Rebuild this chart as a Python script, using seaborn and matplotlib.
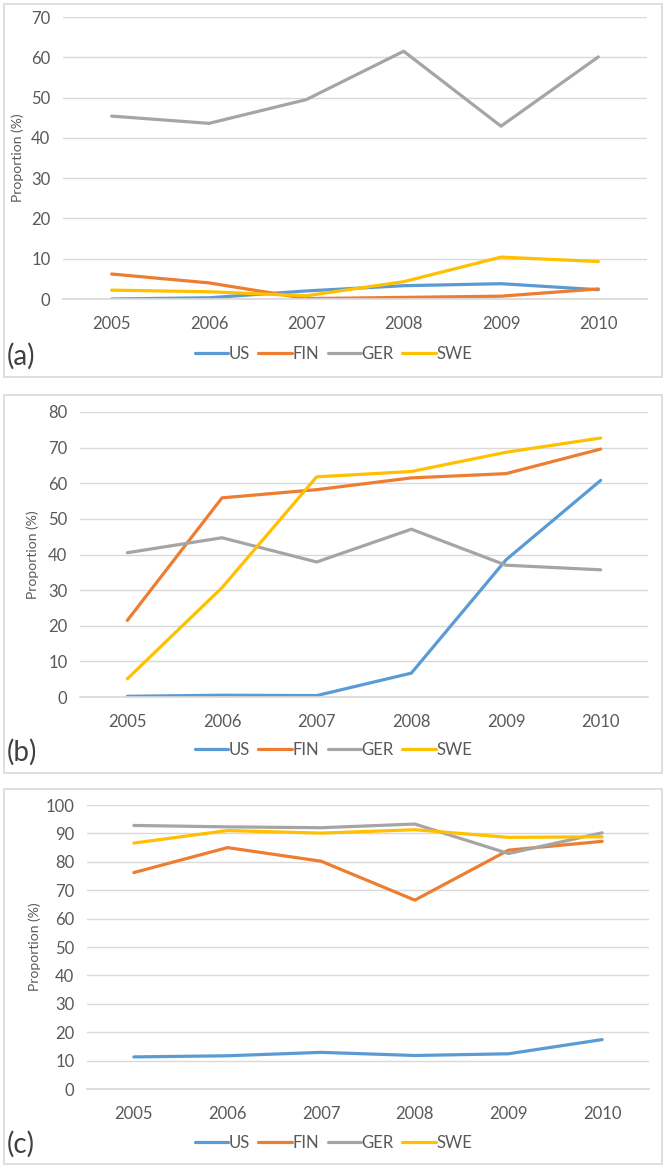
import matplotlib
matplotlib.use("Agg")
import matplotlib.pyplot as plt
from matplotlib.patches import Rectangle
import seaborn as sns
import pandas as pd

years = [2005, 2006, 2007, 2008, 2009, 2010]
countries = ["US", "FIN", "GER", "SWE"]
colors = ["#5B9BD5", "#ED7D31", "#A5A5A5", "#FFC000"]

a_us = [0.0, 0.3, 2.0, 3.3, 3.8, 2.3]
a_fin = [6.2, 4.0, 0.1, 0.4, 0.7, 2.5]
a_ger = [45.4, 43.6, 49.5, 61.5, 42.9, 60.1]
a_swe = [2.2, 1.8, 0.8, 4.3, 10.4, 9.3]

b_us = [0.2, 0.5, 0.4, 6.7, 38.5, 60.8]
b_fin = [21.5, 55.9, 58.2, 61.5, 62.7, 69.6]
b_ger = [40.5, 44.7, 37.9, 47.1, 37.0, 35.7]
b_swe = [5.1, 30.7, 61.8, 63.3, 68.7, 72.7]

c_us = [11.3, 11.7, 12.9, 11.8, 12.4, 17.4]
c_fin = [76.2, 85.0, 80.2, 66.5, 84.1, 87.2]
c_ger = [92.8, 92.3, 92.0, 93.3, 82.9, 90.2]
c_swe = [86.6, 91.0, 90.1, 91.3, 88.6, 88.8]

panel_labels = ["(a)", "(b)", "(c)"]
ylims = [70, 80, 100]

panels = [
    [a_us, a_fin, a_ger, a_swe],
    [b_us, b_fin, b_ger, b_swe],
    [c_us, c_fin, c_ger, c_swe],
]

sns.set_theme(style="white")
plt.rcParams["font.family"] = ["Lato", "DejaVu Sans"]

W, H = 667, 1170
fig = plt.figure(figsize=(W / 100, H / 100), dpi=100)

def fx(px):
    return px / W

def fy(py):
    return 1 - py / H

# axes rectangles in pixel coordinates: left, right, top(y of max), bottom(y of 0)
ax_px = [(63, 647, 17, 299), (80, 648, 412, 697), (87, 649, 805, 1089)]
box_px = [(4, 662, 4, 377), (4, 662, 395, 773), (4, 662, 789, 1164)]
legend_y = [354, 750, 1143]
label_y = [356, 752, 1144]
ylabel_x = [18, 33, 35]

grid_col = "#D9D9D9"
text_col = "#595959"

for i in range(3):
    l, r, t, b = ax_px[i]
    bx0, bx1, by0, by1 = box_px[i]
    fig.patches.append(Rectangle((fx(bx0), fy(by1)), fx(bx1 - bx0), (by1 - by0) / H,
                                 transform=fig.transFigure, fill=False,
                                 edgecolor=grid_col, linewidth=1.2, zorder=0))
    ax = fig.add_axes([fx(l), fy(b), fx(r - l), (b - t) / H])
    rows = []
    for c, vals in zip(countries, panels[i]):
        for y, v in zip(years, vals):
            rows.append({"Year": y, "Country": c, "Value": v})
    df = pd.DataFrame(rows)
    sns.lineplot(data=df, x="Year", y="Value", hue="Country", hue_order=countries,
                 palette=colors, linewidth=2.3, ax=ax, legend=True)
    ax.set_xlim(2004.5, 2010.5)
    ax.set_ylim(0, ylims[i])
    ax.set_yticks(range(0, ylims[i] + 1, 10))
    ax.set_xticks(years)
    ax.set_xticklabels([str(y) for y in years])
    ax.grid(axis="y", color=grid_col, linewidth=1.0)
    ax.set_axisbelow(True)
    for s in ["top", "right", "left"]:
        ax.spines[s].set_visible(False)
    ax.spines["bottom"].set_color(grid_col)
    ax.tick_params(axis="both", length=0, labelsize=12, labelcolor=text_col)
    ax.tick_params(axis="x", pad=12)
    ax.tick_params(axis="y", pad=9)
    ax.set_xlabel("")
    ax.set_ylabel("")
    fig.text(fx(ylabel_x[i]), fy((t + b) / 2), "Proportion (%)", rotation=90,
             ha="center", va="center", fontsize=10, color=text_col)
    sns.move_legend(ax, "center", bbox_to_anchor=(0.5, fy(legend_y[i])),
                    bbox_transform=fig.transFigure, ncol=4, frameon=False,
                    title=None, fontsize=12, handlelength=2.0,
                    columnspacing=0.5, handletextpad=0.05)
    leg = ax.get_legend()
    for txt in leg.get_texts():
        txt.set_color(text_col)
    for ln in leg.get_lines():
        ln.set_linewidth(2.3)
    fig.text(fx(7), fy(label_y[i]), panel_labels[i], ha="left", va="center",
             fontsize=20, color="#404040")

fig.savefig("out.png", dpi=100)
